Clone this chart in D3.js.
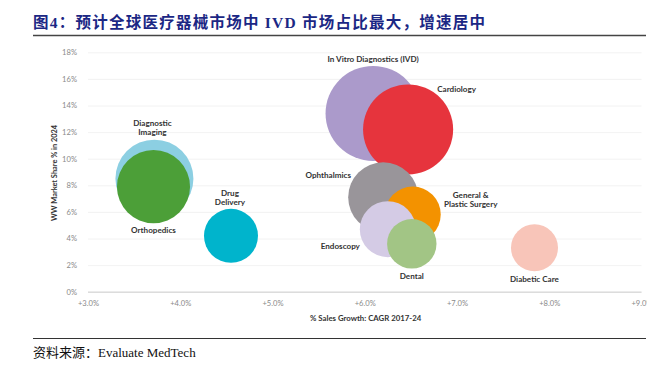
<!DOCTYPE html>
<html>
<head>
<meta charset="utf-8">
<script src="https://cdn.jsdelivr.net/npm/d3@7"></script>
<style>
  body { margin: 0; background: #fff; }
  .tick text { font-family: Lato, "Open Sans", sans-serif; font-size: 7.6px; fill: #8a8a8a; }
  .lbl { font-family: Lato, "Open Sans", sans-serif; font-size: 8.1px; font-weight: 700; fill: #333; }
</style>
</head>
<body>
<div id="chart"></div>
<script>
/* DATA */
const segments = ["In Vitro Diagnostics (IVD)", "Cardiology", "Diagnostic Imaging", "Orthopedics",
  "Drug Delivery", "Ophthalmics", "General & Plastic Surgery", "Endoscopy", "Dental", "Diabetic Care"];
// % sales growth, CAGR 2017-24
const growth = [6.09, 6.47, 3.72, 3.71, 4.55, 6.20, 6.52, 6.25, 6.51, 7.84];
// WW market share % in 2024
const share = [13.4, 12.2, 8.5, 7.9, 4.2, 7.1, 5.8, 4.7, 3.6, 3.3];
// bubble size (relative)
const bubbleSize = [13.35, 12.0, 9.0, 7.9, 4.31, 7.25, 4.64, 4.64, 3.61, 3.27];
const xTicks = [3, 4, 5, 6, 7, 8, 9];
const yTicks = [0, 2, 4, 6, 8, 10, 12, 14, 16, 18];

/* STYLE */
const colors = ["#ab9acb", "#e6343d", "#8ccfe2", "#4c9f38", "#00b4cc", "#99959a", "#f39200", "#d4cbe5", "#a2c585", "#f8c5b9"];
// label lines and offsets (px) from bubble centre
const labelLines = [["In Vitro Diagnostics (IVD)"], ["Cardiology"], ["Diagnostic", "Imaging"], ["Orthopedics"],
  ["Drug", "Delivery"], ["Ophthalmics"], ["General &", "Plastic Surgery"], ["Endoscopy"], ["Dental"], ["Diabetic Care"]];
const labelOffset = [[0, -54.7], [48.5, -40.5], [-2, -55], [0, 43.5], [-1, -42.8], [-55, -22], [58, -19], [-47.5, 17.3], [0, 32.6], [0, 31.5]];

const width = 660, height = 371;
const plot = { left: 88, right: 641.5, top: 52.3, bottom: 291.7 };

const svg = d3.select("#chart").append("svg")
  .attr("width", width)
  .attr("height", height);

// title
svg.append("text")
  .attr("x", 33).attr("y", 28)
  .attr("textLength", 452).attr("lengthAdjust", "spacing")
  .style("font-family", '"Liberation Serif", "Noto Sans CJK SC", serif')
  .style("font-size", "15.5px").style("font-weight", "700")
  .style("fill", "#1b2784")
  .text("图4：预计全球医疗器械市场中 IVD 市场占比最大，增速居中");

svg.append("line")
  .attr("x1", 33).attr("x2", 646).attr("y1", 35.5).attr("y2", 35.5)
  .attr("stroke", "#444").attr("stroke-width", 1.3);

/* SCALES */
const xScale = d3.scaleLinear().domain([3, 9]).range([plot.left, plot.right]);
const yScale = d3.scaleLinear().domain([0, 18]).range([plot.bottom, plot.top]);
const rScale = d3.scaleSqrt().domain([0, 13.35]).range([0, 47.5]);

// clip for right-edge cut of the picture
svg.append("clipPath").attr("id", "edge")
  .append("rect").attr("x", 0).attr("y", 0).attr("width", 647).attr("height", height);

/* AXES / GRID */
const yAxis = d3.axisLeft(yScale)
  .tickValues(yTicks)
  .tickSize(-(plot.right - plot.left))
  .tickPadding(11)
  .tickFormat(d => d + "%");

svg.append("g")
  .attr("transform", `translate(${plot.left},0)`)
  .call(yAxis)
  .call(g => g.select(".domain").remove())
  .call(g => g.selectAll(".tick line").attr("stroke", "#efefef").attr("stroke-width", 0.8));

const xAxis = d3.axisBottom(xScale)
  .tickValues(xTicks)
  .tickSize(-(plot.bottom - plot.top))
  .tickPadding(9)
  .tickFormat(d => "+" + d.toFixed(1) + "%");

svg.append("g")
  .attr("transform", `translate(0,${plot.bottom})`)
  .attr("clip-path", "url(#edge)")
  .call(xAxis)
  .call(g => g.select(".domain").remove())
  .call(g => g.selectAll(".tick line").attr("stroke", "#efefef").attr("stroke-width", 0.8));

svg.append("line")
  .attr("x1", plot.left).attr("x2", plot.right)
  .attr("y1", plot.bottom + 0.5).attr("y2", plot.bottom + 0.5)
  .attr("stroke", "#dcdcdc").attr("stroke-width", 1.6);

// axis titles
svg.append("text")
  .attr("class", "lbl")
  .attr("transform", `translate(57,173) rotate(-90)`)
  .attr("text-anchor", "middle")
  .style("font-size", "7.4px")
  .text("WW Market Share % in 2024");

svg.append("text")
  .attr("class", "lbl")
  .attr("x", 310).attr("y", 320.5)
  .style("font-size", "7.8px")
  .text("% Sales Growth: CAGR 2017-24");

/* BUBBLES */
const data = segments.map((s, i) => ({
  name: s, x: growth[i], y: share[i], size: bubbleSize[i],
  color: colors[i], lines: labelLines[i], off: labelOffset[i]
}));

svg.append("g").selectAll("circle")
  .data(data)
  .join("circle")
  .attr("cx", d => xScale(d.x))
  .attr("cy", d => yScale(d.y))
  .attr("r", d => rScale(d.size))
  .attr("fill", d => d.color);

svg.append("g").selectAll("text")
  .data(data)
  .join("text")
  .attr("class", "lbl")
  .attr("text-anchor", "middle")
  .attr("x", d => xScale(d.x) + d.off[0])
  .attr("y", d => yScale(d.y) + d.off[1] + 2.8)
  .each(function(d) {
    const t = d3.select(this);
    d.lines.forEach((line, j) => {
      t.append("tspan")
        .attr("x", xScale(d.x) + d.off[0])
        .attr("dy", j === 0 ? 0 : 9)
        .text(line);
    });
  });

/* SOURCE */
svg.append("line")
  .attr("x1", 33).attr("x2", 646).attr("y1", 338.5).attr("y2", 338.5)
  .attr("stroke", "#333").attr("stroke-width", 1.2);

svg.append("text")
  .attr("x", 33).attr("y", 357)
  .style("font-family", '"Liberation Serif", "Noto Sans CJK SC", serif')
  .style("font-size", "13px")
  .style("fill", "#111")
  .text("资料来源：Evaluate MedTech");
</script>
</body>
</html>
